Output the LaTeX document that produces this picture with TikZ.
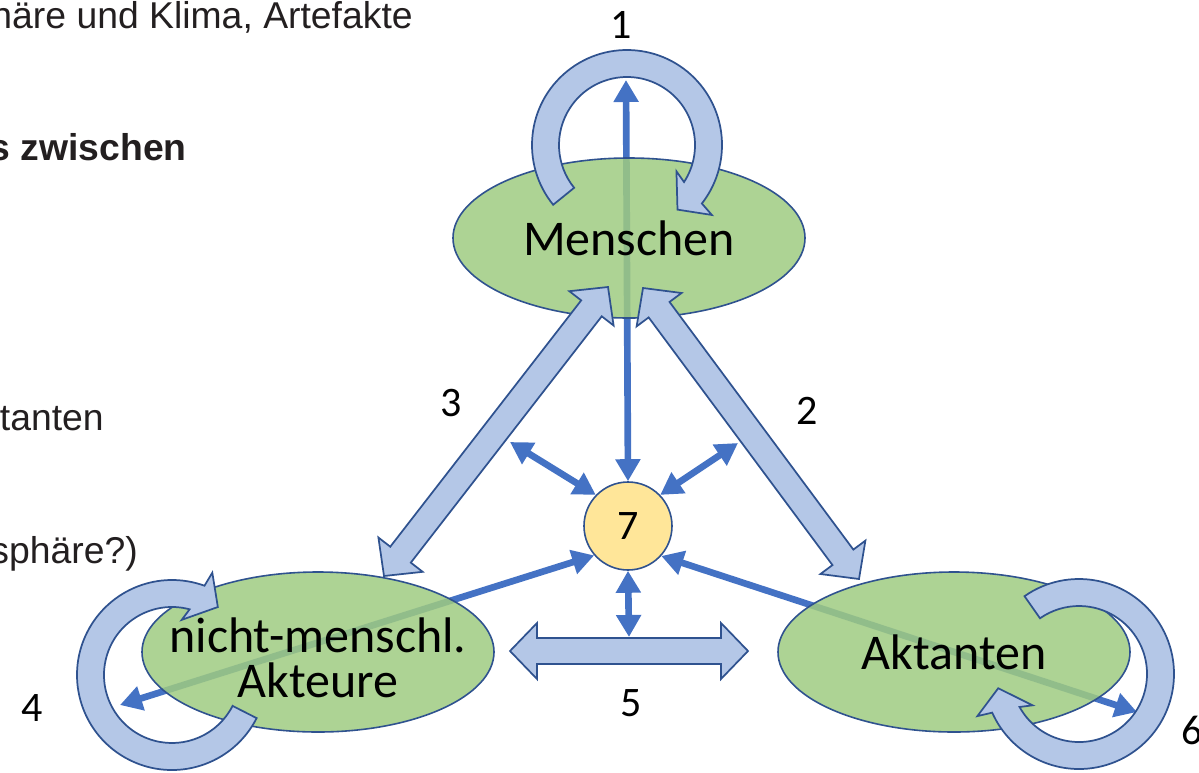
\documentclass[tikz,border=0pt]{standalone}
\usepackage{fontspec}
\setmainfont{Carlito}
\newfontfamily\arialf{Liberation Sans}
\usetikzlibrary{arrows.meta,calc,shapes.geometric}
\definecolor{ablue}{HTML}{4472C4}
\definecolor{bdark}{HTML}{2F528F}
\definecolor{lblue}{HTML}{B4C7E7}
\definecolor{egreen}{HTML}{9FCB81}
\definecolor{cyellow}{HTML}{FFE699}
\definecolor{tgray}{HTML}{231F20}
% circular block arrow: #1 centre, #2 tail angle, #3 end angle (outer arc)
\newcommand\loopArrow[3]{%
  \draw[blockarrow] ($(#1)+(#2:95)$) arc[start angle=#2, end angle=#3, radius=95]
    -- ($(#1)+({#3+1.5}:110)$) -- ($(#1)+({#3+14}:82)$) -- ($(#1)+({#3-10}:56)$)
    -- ($(#1)+({#3-5}:68)$) arc[start angle={#3-5}, end angle=#2, radius=68] -- cycle;}
% straight double block arrow between two tips
\newcommand\dblArrow[2]{%
  \coordinate (da1) at ($(#1)!20.25pt!(#2)$);
  \coordinate (da2) at ($(#2)!20.25pt!(#1)$);
  \draw[blockarrow] (#1) -- ($(da1)!21pt!90:(#2)$) -- ($(da1)!9.75pt!90:(#2)$)
    -- ($(da2)!9.75pt!-90:(#1)$) -- ($(da2)!21pt!-90:(#1)$) -- (#2)
    -- ($(da2)!21pt!90:(#1)$) -- ($(da2)!9.75pt!90:(#1)$)
    -- ($(da1)!9.75pt!-90:(#2)$) -- ($(da1)!21pt!-90:(#2)$) -- cycle;}
\begin{document}
\begin{tikzpicture}[x=0.75pt,y=-0.75pt,
  tarrow/.style={draw=ablue, line width=5pt,
    {Triangle[length=16.5pt,width=18pt]}-{Triangle[length=16.5pt,width=18pt]}},
  blockarrow/.style={draw=bdark, fill=lblue, line width=1.3pt, line join=miter},
  ell/.style={ellipse, draw=bdark, line width=1.2pt, fill=egreen, fill opacity=0.85,
    text opacity=1, minimum width=264pt, minimum height=120pt, inner sep=0pt},
  bigtext/.style={font=\fontsize{37.5}{37.5}\selectfont},
  numtext/.style={font=\fontsize{31.5}{31.5}\selectfont},
  sidetext/.style={font=\arialf\fontsize{28}{33}\selectfont, text=tgray, anchor=base east, inner sep=0pt},
]
\useasboundingbox (0,0) rectangle (1199,772);
\clip (0,0) rectangle (1199,772);

% centre circle
\node[circle, draw=bdark, line width=1.2pt, fill=cyellow, minimum size=66pt, inner sep=0pt, numtext] (seven) at (628,526) {7};

% free ends of thin arrows
\coordinate (top1) at (626,80);
\coordinate (ul) at (510,442);
\coordinate (ur) at (738,443);
\coordinate (lft) at (120,705);
\coordinate (rgt) at (1137,712);
\coordinate (a5top) at (629,637);

\draw[tarrow] (top1) -- (seven.north);
\draw[tarrow] (ul) -- (seven.136);
\draw[tarrow] (ur) -- (seven.44);
\draw[tarrow] (lft) -- (seven.221);
\draw[tarrow] (rgt) -- (seven.318);
\draw[tarrow] (a5top) -- (seven.south);

% ellipses
\node[ell, bigtext] (men) at (629,238) {Menschen};
\node[ell] (nma) at (318,652) {};
\node[ell, bigtext] (akt) at (954,652) {Aktanten};
\node[bigtext, anchor=base, inner sep=0pt] (nm1) at (318,652) {nicht-menschl.};
\node[bigtext, anchor=base, inner sep=0pt] (nm2) at (318,697) {Akteure};

% straight block arrows
\coordinate (a3t) at (608,287);
\coordinate (a3b) at (384,576);
\coordinate (a2t) at (643,288);
\coordinate (a2b) at (859,579);
\coordinate (a5l) at (510,651);
\coordinate (a5r) at (748,651);
\dblArrow{a3t}{a3b}
\dblArrow{a2t}{a2b}
\dblArrow{a5l}{a5r}

% circular arrows
\coordinate (c1) at (627,145);
\coordinate (c4) at (172,675);
\coordinate (c6) at (1079,674);
\loopArrow{c1}{141}{398}
\loopArrow{c4}{27}{290}
\loopArrow{c6}{235}{516}

% numbers
\node[numtext] (n1) at (621,25) {1};
\node[numtext] (n2) at (807,411) {2};
\node[numtext] (n3) at (451,403) {3};
\node[numtext] (n4) at (32,708) {4};
\node[numtext] (n5) at (631,703) {5};
\node[numtext] (n6) at (1192,730) {6};

% cut-off side texts
\node[sidetext] (s1) at (413,28) {häre und Klima, Artefakte};
\node[sidetext, font=\arialf\bfseries\fontsize{28}{33}\selectfont] (s2) at (187,160) {s zwischen};
\node[sidetext] (s3) at (104,430) {tanten};
\node[sidetext] (s4) at (138,563) {sphäre?)};
\end{tikzpicture}
\end{document}
